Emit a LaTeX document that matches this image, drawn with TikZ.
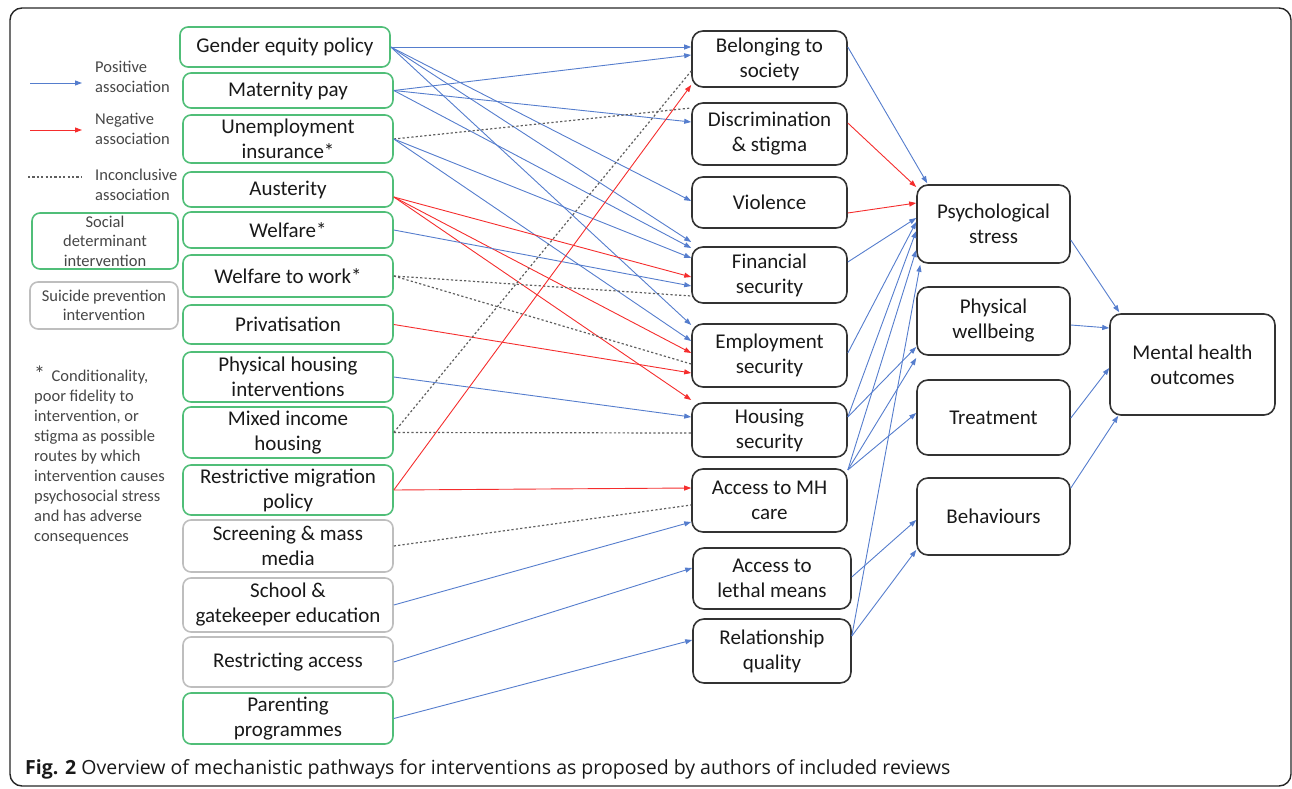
\documentclass[tikz,border=0pt]{standalone}
\usepackage{fontspec}
\setmainfont{Carlito}
\newfontfamily\capfont{Open Sans}
\usetikzlibrary{arrows.meta,calc}
\definecolor{gr}{RGB}{80,190,120}
\definecolor{gy}{RGB}{190,190,190}
\definecolor{bl}{RGB}{85,125,205}
\definecolor{rd}{RGB}{245,45,45}
\definecolor{dt}{RGB}{95,95,95}
\definecolor{tx}{RGB}{25,25,25}
\definecolor{lt}{RGB}{70,70,70}
\newcommand{\bx}[7]{%
  \pgfmathsetmacro{\bxcx}{(#3+#5)/2}%
  \pgfmathsetmacro{\bxcy}{(#4+#6)/2}%
  \pgfmathsetmacro{\bxw}{#5-#3}%
  \pgfmathsetmacro{\bxh}{#6-#4}%
  \node[#1,minimum width=\bxw pt,minimum height=\bxh pt] (#2) at (\bxcx,\bxcy) {#7};}
\begin{document}
\begin{tikzpicture}[x=1pt,y=-1pt,
  box/.style={rounded corners=8pt,line width=1.6pt,align=center,text=tx,
    font=\fontsize{21}{25}\selectfont,inner sep=0pt},
  gbox/.style={box,draw=gr},
  ybox/.style={box,draw=gy},
  kbox/.style={box,draw=black!80,rounded corners=11pt},
  lbox/.style={box,font=\fontsize{16.5}{19.5}\selectfont,text=lt},
  posa/.style={draw=bl,line width=0.9pt,-{Triangle[length=7pt,width=5pt]}},
  nega/.style={draw=rd,line width=0.9pt,-{Triangle[length=7pt,width=5pt]}},
  inca/.style={draw=dt,line width=1.2pt,dash pattern=on 2.2pt off 2.2pt},
  ltxt/.style={font=\fontsize{16.5}{19.5}\selectfont,text=lt,align=left,anchor=north west,inner sep=0pt}]
\useasboundingbox (0,0) rectangle (1292,789);
\draw[line width=1.4pt,rounded corners=12pt,black!85] (10,8) rectangle (1291,786);

% left column
\bx{gbox}{gep}{180}{27}{390}{67}{Gender equity policy}
\bx{gbox}{mat}{183}{73}{393}{108}{Maternity pay}
\bx{gbox}{une}{183}{115}{393}{163}{Unemployment\\insurance*}
\bx{gbox}{aus}{183}{172}{393}{207}{Austerity}
\bx{gbox}{wel}{183}{212}{393}{248}{Welfare*}
\bx{gbox}{wtw}{183}{255}{393}{297}{Welfare to work*}
\bx{gbox}{pri}{183}{305}{393}{344}{Privatisation}
\bx{gbox}{phh}{183}{352}{393}{402}{Physical housing\\interventions}
\bx{gbox}{mix}{183}{407}{393}{458}{Mixed income\\housing}
\bx{gbox}{rmp}{183}{465}{393}{515}{Restrictive migration\\policy}
\bx{ybox}{scr}{183}{520}{393}{572}{Screening \& mass\\media}
\bx{ybox}{sch}{183}{578}{393}{632}{School \&\\gatekeeper education}
\bx{ybox}{res}{183}{637}{393}{687}{Restricting access}
\bx{gbox}{par}{183}{693}{393}{744}{Parenting\\programmes}

% legend
\bx{lbox,draw=gr}{sdi}{32}{213}{178}{269}{Social\\determinant\\intervention}
\bx{lbox,draw=gy}{spi}{30}{282}{178}{329}{Suicide prevention\\intervention}
\coordinate (la1) at (30,83); \coordinate (lb1) at (82,83);
\coordinate (la2) at (30,130); \coordinate (lb2) at (82,130);
\coordinate (la3) at (28,177); \coordinate (lb3) at (82,177);
\draw[posa] (la1) -- (lb1);
\draw[nega] (la2) -- (lb2);
\draw[inca] (la3) -- (lb3);
\node[ltxt] (lt1) at (95,61) {Positive\\association};
\node[ltxt] (lt2) at (95,113) {Negative\\association};
\node[ltxt] (lt3) at (95,169) {Inconclusive\\association};
\node[ltxt,font=\fontsize{16.5}{20}\selectfont] (note) at (34,366) {{\fontsize{22}{20}\selectfont*}\, Conditionality,\\poor fidelity to\\intervention, or\\stigma as possible\\routes by which\\intervention causes\\psychosocial stress\\and has adverse\\consequences};

% middle column
\bx{kbox}{bel}{692}{31}{847}{87}{Belonging to\\society}
\bx{kbox}{dis}{692}{103}{847}{165}{Discrimination\\\& stigma}
\bx{kbox}{vio}{692}{177}{847}{228}{Violence}
\bx{kbox}{fin}{692}{247}{847}{303}{Financial\\security}
\bx{kbox}{emp}{692}{324}{847}{387}{Employment\\security}
\bx{kbox}{hou}{692}{403}{847}{457}{Housing\\security}
\bx{kbox}{amh}{692}{469}{847}{532}{Access to MH\\care}
\bx{kbox}{alm}{693}{548}{851}{609}{Access to\\lethal means}
\bx{kbox}{rel}{693}{619}{851}{683}{Relationship\\quality}

% right column
\bx{kbox}{pss}{917}{185}{1070}{263}{Psychological\\stress}
\bx{kbox}{pwb}{917}{287}{1070}{355}{Physical\\wellbeing}
\bx{kbox}{trt}{917}{380}{1070}{455}{Treatment}
\bx{kbox}{beh}{917}{478}{1070}{555}{Behaviours}
\bx{kbox}{mho}{1110}{314}{1275}{415}{Mental health\\outcomes}

% left -> middle
\draw[posa] (gep.east) -- (bel.west |- 0,47);
\draw[posa] (gep.east) -- (vio.west |- 0,201);
\draw[posa] (gep.east) -- (fin.west |- 0,242);
\draw[posa] (gep.east) -- (emp.west |- 0,325);
\draw[posa] (mat.east) -- (bel.west |- 0,55);
\draw[posa] (mat.east) -- (dis.west |- 0,122);
\draw[posa] (mat.east) -- (fin.west |- 0,248);
\draw[inca] (une.east) -- (dis.west |- 0,108);
\draw[posa] (une.east) -- (fin.west |- 0,258);
\draw[posa] (une.east) -- (emp.west |- 0,341);
\draw[nega] (aus.east |- 0,197) -- (fin.west |- 0,277);
\draw[nega] (aus.east |- 0,197) -- (emp.west |- 0,353);
\draw[nega] (aus.east |- 0,197) -- (hou.west |- 0,400);
\draw[posa] (wel.east) -- (fin.west |- 0,286);
\draw[inca] (wtw.east) -- (fin.west |- 0,296);
\draw[inca] (wtw.east) -- (emp.west |- 0,364);
\draw[nega] (pri.east) -- (emp.west |- 0,373);
\draw[posa] (phh.east) -- (hou.west |- 0,417);
\draw[inca] (mix.east) -- (bel.west |- 0,71);
\draw[inca] (mix.east) -- (hou.west |- 0,433);
\draw[nega] (rmp.east) -- (bel.west |- 0,85);
\draw[nega] (rmp.east) -- (amh.west |- 0,488);
\draw[inca] (scr.east) -- (amh.west |- 0,505);
\draw[posa] (sch.east) -- (amh.west |- 0,522);
\draw[posa] (res.east) -- (alm.west |- 0,568);
\draw[posa] (par.east) -- (rel.west |- 0,640);

% middle -> right
\draw[posa] (bel.east |- 0,47) -- ($(pss.north west)+(11,-1)$);
\draw[nega] (dis.east |- 0,123) -- (pss.west |- 0,187);
\draw[nega] (vio.east |- 0,213) -- (pss.west |- 0,203);
\draw[posa] (fin.east |- 0,262) -- (pss.west |- 0,218);
\draw[posa] (emp.east |- 0,353) -- (pss.west |- 0,222);
\draw[posa] (hou.east |- 0,417) -- (pss.west |- 0,231);
\draw[posa] (hou.east |- 0,417) -- (pwb.west |- 0,347);
\draw[posa] (amh.east |- 0,470) -- (pss.west |- 0,250);
\draw[posa] (amh.east |- 0,470) -- (pwb.west |- 0,358);
\draw[posa] (amh.east |- 0,470) -- (trt.west |- 0,413);
\draw[posa] (alm.east |- 0,577) -- (beh.west |- 0,520);
\draw[posa] (rel.east |- 0,636) -- (beh.west |- 0,550);
\draw[posa] (rel.east |- 0,636) -- ($(pss.south west)+(4,1)$);

% right -> outcomes
\draw[posa] (pss.east |- 0,240) -- ($(mho.north west)+(10,-1)$);
\draw[posa] (pwb.east |- 0,325) -- (mho.west |- 0,328);
\draw[posa] (trt.east |- 0,418) -- (mho.west |- 0,368);
\draw[posa] (beh.east |- 0,488) -- ($(mho.south west)+(9,0)$);

% caption
\node[anchor=base west,inner sep=0pt,text=tx,font=\capfont\fontsize{19.5}{22}\selectfont] (cap) at (25,774)
  {\textbf{Fig. 2} Overview of mechanistic pathways for interventions as proposed by authors of included reviews};
\end{tikzpicture}
\end{document}
